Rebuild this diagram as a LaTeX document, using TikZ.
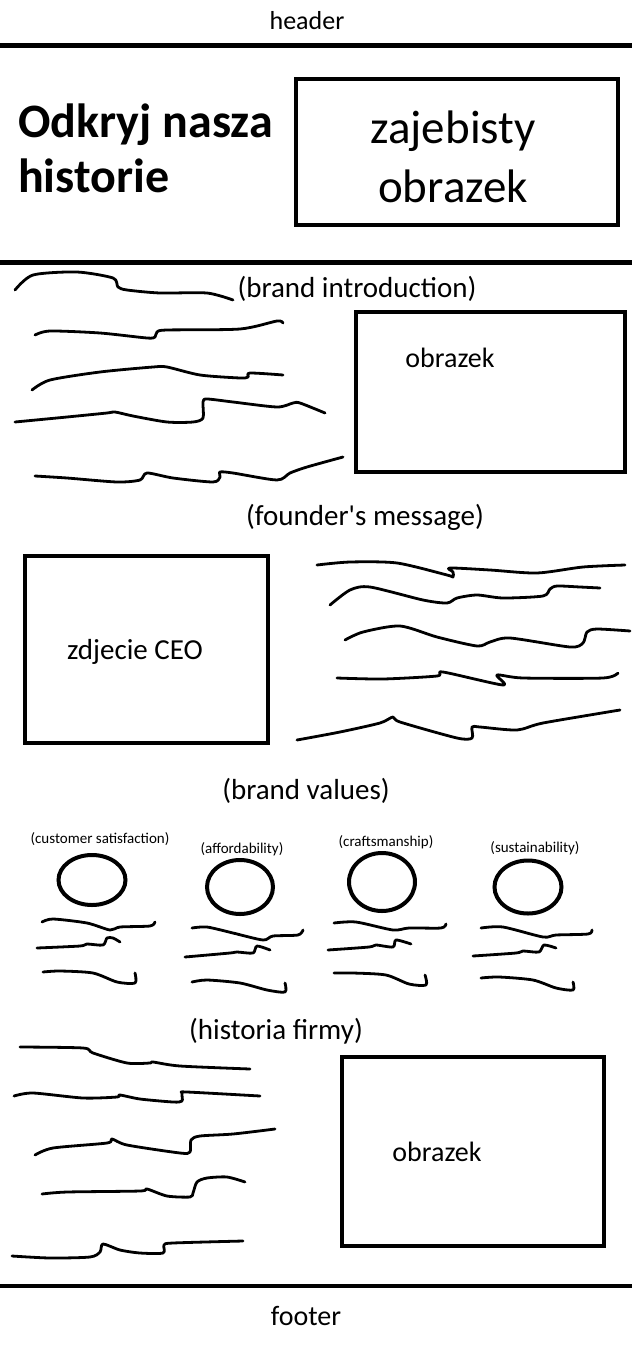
\documentclass[tikz,border=0pt]{standalone}
\usepackage{fontspec}
\setmainfont{Carlito}
\usetikzlibrary{shapes.geometric}
\newcommand{\px}[1]{\fontsize{#1}{1.2\dimexpr#1pt\relax}\selectfont}

\begin{document}
\begin{tikzpicture}[x=1pt,y=-1pt,
  rule/.style={line width=4.5pt},
  imgbox/.style={draw,line width=4pt,rectangle,inner sep=0pt},
  valring/.style={draw,line width=4pt,ellipse,inner sep=0pt},
  scrib/.style={line width=2.8pt,line cap=round,line join=round},
  caption/.style={inner sep=0pt,font=\px{29}},
  small/.style={inner sep=0pt,font=\px{15}}]
\useasboundingbox (0,0) rectangle (632,1346);

% header
\node[inner sep=0pt,font=\px{26}] (header) at (307,21) {header};
\coordinate (r1a) at (0,45.5);
\coordinate (r1b) at (632,45.5);
\draw[rule] (r1a) -- (r1b);

% hero
\node[inner sep=0pt,anchor=base west,align=left,font={\bfseries\fontsize{48}{55}\selectfont}] (title) at (18,192) {Odkryj nasza\\historie};
\node[imgbox,minimum width=322,minimum height=146] (hero) at (457,152) {};
\node[inner sep=0pt,align=center,font={\fontsize{47}{59}\selectfont}] (herotxt) at (453,157) {zajebisty\\obrazek};
\coordinate (r2a) at (0,262.5);
\coordinate (r2b) at (632,262.5);
\draw[rule] (r2a) -- (r2b);

% brand introduction
\node[caption] (intro) at (357,289) {(brand introduction)};
\node[imgbox,minimum width=269,minimum height=160] (introimg) at (490.5,392) {};
\node[inner sep=0pt,font=\px{28}] (introtxt) at (450,358) {obrazek};
\draw[scrib] plot[smooth,tension=0.45] coordinates {(15,290) (33,275) (77,272) (113,278) (118,287) (127,290) (160,293) (207,293) (233,300)};
\draw[scrib] plot[smooth,tension=0.45] coordinates {(35,335) (50,331) (100,333) (147,338) (155,337) (157,332) (167,330) (240,329) (277,321) (283,323)};
\draw[scrib] plot[smooth,tension=0.45] coordinates {(32,390) (50,380) (100,372) (153,367) (167,367) (200,375) (240,378) (248,377) (250,373) (283,375)};
\draw[scrib] plot[smooth,tension=0.45] coordinates {(15,422) (67,417) (107,413) (115,412) (133,416) (167,422) (193,422) (203,418) (203,402) (207,399) (233,402) (277,407) (293,403) (300,403) (325,413)};
\draw[scrib] plot[smooth,tension=0.45] coordinates {(35,476) (67,478) (117,482) (140,480) (147,473) (173,478) (213,482) (220,477) (220,472) (233,473) (277,480) (290,473) (307,467) (343,457)};

% founder's message
\node[caption] (founder) at (365,517) {(founder\textquotesingle s message)};
\node[imgbox,minimum width=243,minimum height=187] (ceoimg) at (146.5,649.5) {};
\node[inner sep=0pt,font=\px{29}] (ceotxt) at (135,652) {zdjecie CEO};
\draw[scrib] plot[smooth,tension=0.45] coordinates {(317,565) (350,562) (397,563) (447,575) (453,577) (453,572) (450,568) (490,570) (537,573) (583,567) (625,565)};
\draw[scrib] plot[smooth,tension=0.45] coordinates {(330,605) (350,590) (370,587) (423,600) (447,603) (457,598) (477,595) (503,598) (543,596) (550,589) (557,586) (580,587) (600,588)};
\draw[scrib] plot[smooth,tension=0.45] coordinates {(345,640) (363,632) (400,626) (437,637) (477,646) (490,642) (510,638) (570,647) (583,643) (587,632) (597,629) (630,631)};
\draw[scrib] plot[smooth,tension=0.45] coordinates {(337,678) (383,679) (437,676) (443,672) (503,685) (497,675) (523,678) (603,678) (618,673)};
\draw[scrib] plot[smooth,tension=0.45] coordinates {(297,740) (340,732) (380,723) (393,717) (400,722) (457,738) (472,738) (472,727) (480,727) (517,730) (543,723) (620,710)};

% brand values
\node[caption] (values) at (306,791) {(brand values)};
\node[small] (val1) at (100,839) {(customer satisfaction)};
\node[small] (val2) at (242,849) {(affordability)};
\node[small] (val3) at (386,842) {(craftsmanship)};
\node[small] (val4) at (535,848) {(sustainability)};
\node[valring,minimum width=67,minimum height=50] (ring1) at (92,880) {};
\node[valring,minimum width=66,minimum height=54] (ring2) at (240,887) {};
\node[valring,minimum width=66,minimum height=58] (ring3) at (382,882) {};
\node[valring,minimum width=67,minimum height=53] (ring4) at (528,887) {};
\draw[scrib] plot[smooth,tension=0.45] coordinates {(42,922) (53,919) (87,923) (110,930) (120,927) (150,926) (155,922)};
\draw[scrib] plot[smooth,tension=0.45] coordinates {(37,948) (80,946) (87,944) (103,945) (107,938) (113,938) (120,942)};
\draw[scrib] plot[smooth,tension=0.45] coordinates {(43,972) (60,971) (93,973) (117,982) (135,983) (135,973)};
\draw[scrib] plot[smooth,tension=0.45] coordinates {(192,928) (207,927) (233,933) (263,940) (273,936) (298,935) (303,930)};
\draw[scrib] plot[smooth,tension=0.45] coordinates {(185,957) (230,953) (237,952) (253,953) (257,946) (270,950)};
\draw[scrib] plot[smooth,tension=0.45] coordinates {(192,982) (207,980) (240,983) (267,990) (285,992) (285,983)};
\draw[scrib] plot[smooth,tension=0.45] coordinates {(334,923) (356,922) (393,930) (409,928) (441,928) (446,924)};
\draw[scrib] plot[smooth,tension=0.45] coordinates {(328,950) (369,947) (376,945) (393,947) (396,940) (411,944)};
\draw[scrib] plot[smooth,tension=0.45] coordinates {(334,973) (353,973) (386,975) (409,984) (426,985) (425,975)};
\draw[scrib] plot[smooth,tension=0.45] coordinates {(481,928) (503,927) (543,937) (556,935) (588,934) (592,930)};
\draw[scrib] plot[smooth,tension=0.45] coordinates {(473,956) (516,953) (523,951) (539,952) (544,945) (556,948)};
\draw[scrib] plot[smooth,tension=0.45] coordinates {(481,978) (499,977) (533,980) (556,988) (573,990) (573,982)};

% historia firmy
\node[caption] (history) at (276,1031) {(historia firmy)};
\node[imgbox,minimum width=262,minimum height=189] (histimg) at (473,1151.5) {};
\node[inner sep=0pt,font=\px{28}] (histtxt) at (437,1152) {obrazek};
\draw[scrib] plot[smooth,tension=0.45] coordinates {(20,1047) (83,1048) (93,1053) (127,1063) (150,1063) (153,1062) (180,1066) (250,1069)};
\draw[scrib] plot[smooth,tension=0.45] coordinates {(14,1096) (33,1093) (83,1098) (117,1097) (120,1095) (140,1099) (173,1102) (182,1101) (182,1093) (187,1092) (260,1096)};
\draw[scrib] plot[smooth,tension=0.45] coordinates {(35,1155) (53,1148) (107,1143) (112,1139) (127,1145) (180,1153) (190,1152) (191,1140) (200,1136) (233,1134) (275,1129)};
\draw[scrib] plot[smooth,tension=0.45] coordinates {(42,1194) (67,1192) (140,1191) (147,1189) (167,1196) (190,1197) (193,1193) (197,1182) (207,1178) (227,1177) (245,1182)};
\draw[scrib] plot[smooth,tension=0.45] coordinates {(12,1256) (50,1258) (90,1257) (100,1252) (103,1244) (120,1250) (140,1253) (163,1253) (164,1245) (173,1243) (243,1241)};

% footer
\coordinate (r3a) at (0,1286);
\coordinate (r3b) at (632,1286);
\draw[rule] (r3a) -- (r3b);
\node[inner sep=0pt,font=\px{28}] (footer) at (306,1316) {footer};
\end{tikzpicture}
\end{document}
